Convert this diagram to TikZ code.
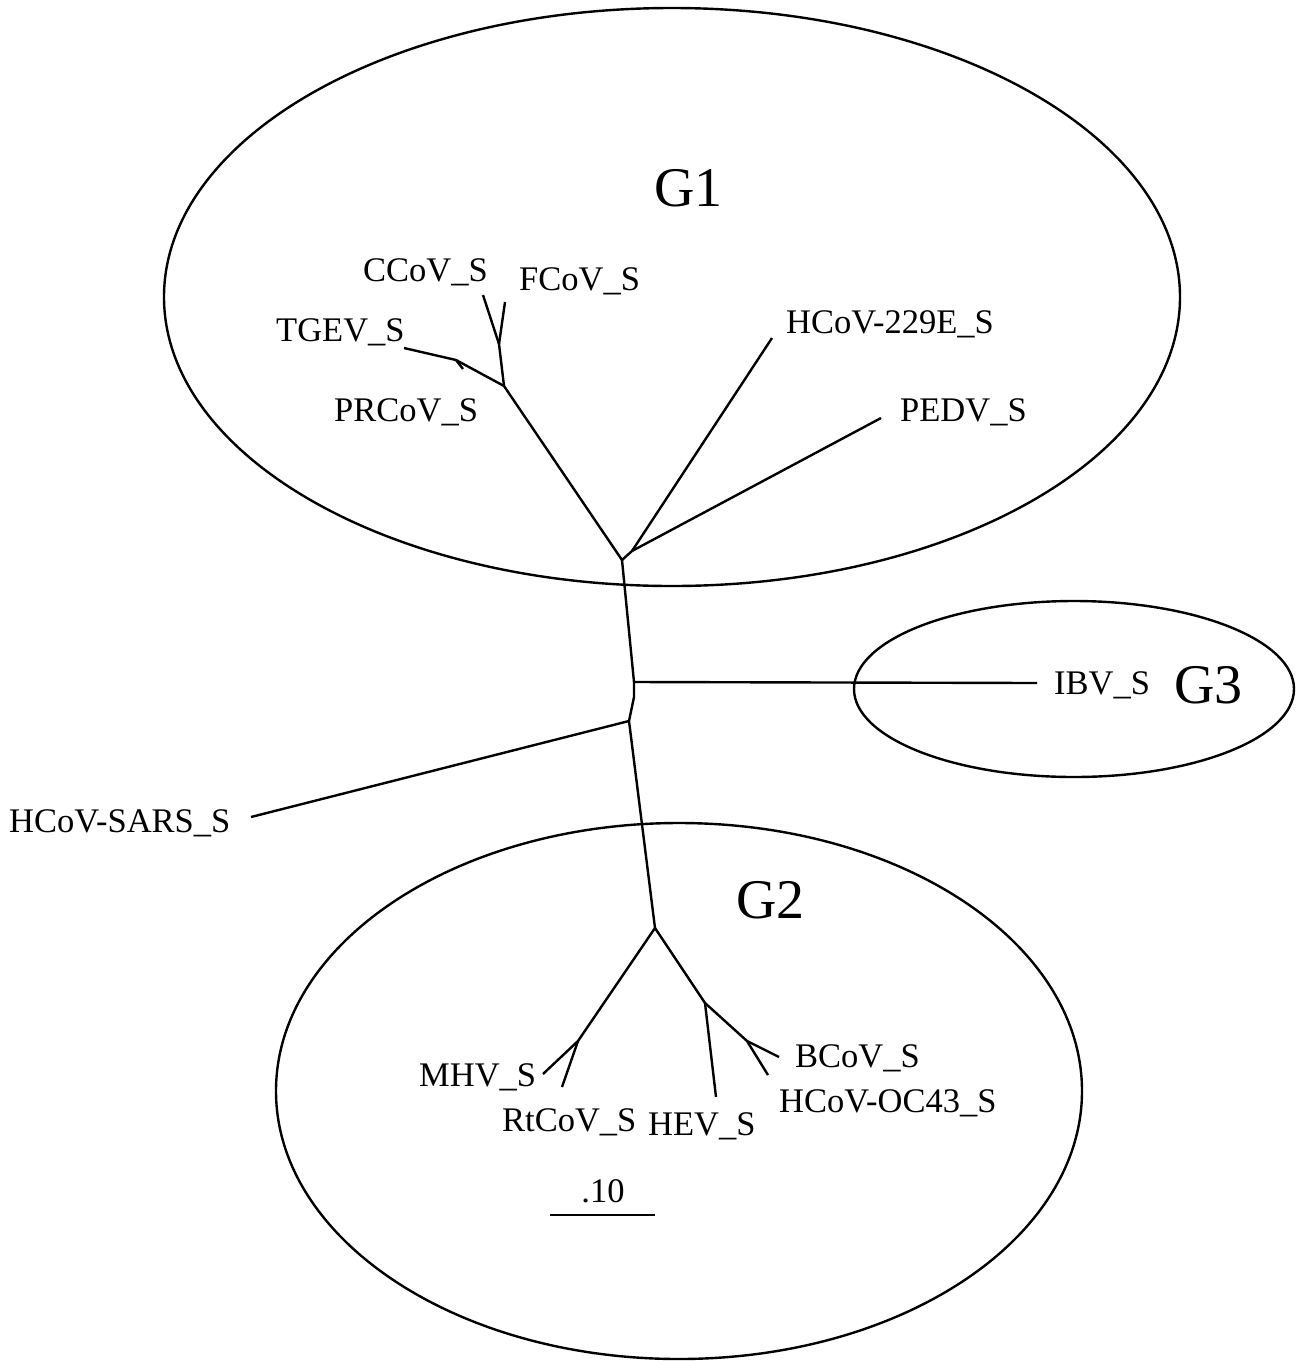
\documentclass[tikz,border=0pt]{standalone}
\usepackage{fontspec}
\setmainfont{Liberation Serif}
\usepackage{tikz}
\usetikzlibrary{arrows.meta}

\begin{document}
\begin{tikzpicture}[x=1pt, y=-1pt, line width=2.4pt,
	lbl/.style={anchor=base west, inner sep=0pt, font=\fontsize{34.5}{40}\selectfont},
	grp/.style={anchor=base west, inner sep=0pt, font=\fontsize{56}{64}\selectfont}]
			\useasboundingbox (0,0) rectangle (1305,1361);
			% groups
			\draw (672,297) ellipse [x radius=508pt, y radius=289pt];
			\draw (1074,689) ellipse [x radius=220pt, y radius=88pt];
			\draw (679,1091) ellipse [x radius=403pt, y radius=268pt];
			\node[grp] (g1) at (653,206) {G1};
			\node[grp] (g2) at (735,918) {G2};
			\node[grp] (g3) at (1173,703) {G3};
			% inner nodes
			\coordinate (r1) at (622,560);
			\coordinate (r2) at (634,682);
			\coordinate (r3) at (634,697);
			\coordinate (r4) at (629,721);
			\coordinate (r5) at (655,928);
			\coordinate (a1) at (632,551);
			\coordinate (a2) at (504,386);
			\coordinate (a3) at (499,344);
			\coordinate (a4) at (456,360);
			\coordinate (b1) at (578,1041);
			\coordinate (b2) at (705,1003);
			\coordinate (b3) at (747,1041);
			% tips
			\coordinate (tccov) at (483,295);
			\coordinate (tfcov) at (505,302);
			\coordinate (ttgev) at (404,348);
			\coordinate (tprcov) at (463,369);
			\coordinate (t229e) at (772,338);
			\coordinate (tpedv) at (881,418);
			\coordinate (tibv) at (1037,683);
			\coordinate (tsars) at (251,817);
			\coordinate (tmhv) at (543,1074);
			\coordinate (trtcov) at (562,1087);
			\coordinate (thev) at (716,1097);
			\coordinate (tbcov) at (779,1057);
			\coordinate (toc43) at (768,1075);
			% tree
			\draw (r1) -- (r2) -- (r3) -- (r4) -- (r5);
			\draw (r1) -- (a1) -- (t229e);
			\draw (a1) -- (tpedv);
			\draw (r1) -- (a2) -- (a3) -- (tccov);
			\draw (a3) -- (tfcov);
			\draw (a2) -- (a4) -- (ttgev);
			\draw (a4) -- (tprcov);
			\draw (r2) -- (tibv);
			\draw (r4) -- (tsars);
			\draw (r5) -- (b1) -- (tmhv);
			\draw (b1) -- (trtcov);
			\draw (r5) -- (b2) -- (thev);
			\draw (b2) -- (b3) -- (tbcov);
			\draw (b3) -- (toc43);
			% labels
			\node[lbl] (ccov) at (362,281) {CCoV\_S};
			\node[lbl] (fcov) at (518,290) {FCoV\_S};
			\node[lbl] (tgev) at (275,341) {TGEV\_S};
			\node[lbl] (prcov) at (333,421) {PRCoV\_S};
			\node[lbl] (hcov229e) at (785,333) {HCoV-229E\_S};
			\node[lbl] (pedv) at (899,421) {PEDV\_S};
			\node[lbl] (ibv) at (1053,694) {IBV\_S};
			\node[lbl] (sars) at (8,832) {HCoV-SARS\_S};
			\node[lbl] (mhv) at (418,1086) {MHV\_S};
			\node[lbl] (rtcov) at (501,1131) {RtCoV\_S};
			\node[lbl] (hev) at (647,1135) {HEV\_S};
			\node[lbl] (bcov) at (794,1067) {BCoV\_S};
			\node[lbl] (oc43) at (778,1112) {HCoV-OC43\_S};
			% scale bar
			\coordinate (s1) at (550,1215);
			\coordinate (s2) at (655,1215);
			\draw (s1) -- (s2);
			\node[lbl, anchor=base] (scale) at (603,1202) {.10};
		\end{tikzpicture}
\end{document}
